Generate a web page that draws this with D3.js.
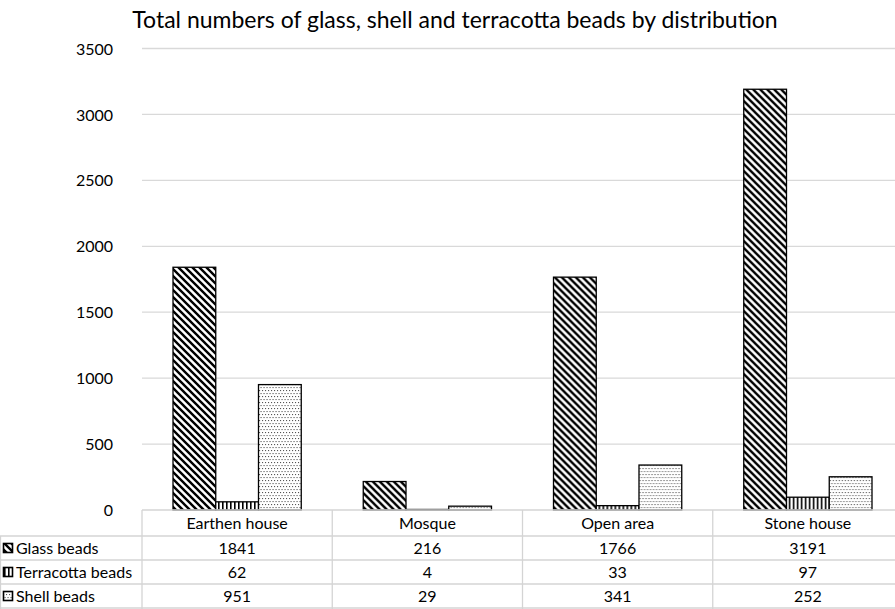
<!DOCTYPE html>
<html>
<head>
<meta charset="utf-8">
<script src="https://cdn.jsdelivr.net/npm/d3@7"></script>
<style>
  body { margin: 0; background: #fff; }
  svg { display: block; font-family: Lato, "Open Sans", sans-serif; }
</style>
</head>
<body>
<svg id="chart" width="895" height="609"></svg>
<script>
const categories = ['Earthen house', 'Mosque', 'Open area', 'Stone house'];
const seriesNames = ['Glass beads', 'Terracotta beads', 'Shell beads'];
const glassBeads = [1841, 216, 1766, 3191];
const terracottaBeads = [62, 4, 33, 97];
const shellBeads = [951, 29, 341, 252];
const yTicks = [0, 500, 1000, 1500, 2000, 2500, 3000, 3500];

const seriesValues = [glassBeads, terracottaBeads, shellBeads];
const patternIds = ['pat-glass', 'pat-terra', 'pat-shell'];

const svg = d3.select('#chart');
const plotLeft = 142, plotRight = 903, plotTop = 48.5, plotBottom = 510;
const rowH = 24;
const fs = 16;

const x = d3.scaleBand().domain(categories).range([plotLeft, plotRight]);
const x1 = d3.scaleBand().domain(seriesNames).range([31, x.bandwidth() - 31]);
const y = d3.scaleLinear().domain([0, 3500]).range([plotBottom, plotTop]);

// fill patterns
const defs = svg.append('defs');
const pg = defs.append('pattern').attr('id', 'pat-glass')
  .attr('patternUnits', 'userSpaceOnUse').attr('width', 7).attr('height', 7);
pg.append('rect').attr('width', 7).attr('height', 7).attr('fill', '#fff');
pg.append('path').attr('d', 'M-1,-1 L8,8 M-8,-1 L1,8 M6,-1 L15,8')
  .attr('stroke', '#000').attr('stroke-width', 2.4);

const pt = defs.append('pattern').attr('id', 'pat-terra')
  .attr('patternUnits', 'userSpaceOnUse').attr('width', 4).attr('height', 4);
pt.append('rect').attr('width', 4).attr('height', 4).attr('fill', '#fff');
pt.append('rect').attr('width', 1.6).attr('height', 4).attr('fill', '#000');

const ps = defs.append('pattern').attr('id', 'pat-shell')
  .attr('patternUnits', 'userSpaceOnUse').attr('width', 6).attr('height', 6);
ps.append('rect').attr('width', 6).attr('height', 6).attr('fill', '#fff');
[[0, 0], [3, 0], [1.5, 3], [4.5, 3]].forEach(([dx, dy]) => {
  ps.append('rect').attr('x', dx).attr('y', dy).attr('width', 1.1).attr('height', 1.1).attr('fill', '#555');
});

// title
svg.append('text')
  .attr('x', 455).attr('y', 28)
  .attr('text-anchor', 'middle')
  .attr('font-size', 23).attr('fill', '#000')
  .text('Total numbers of glass, shell and terracotta beads by distribution');

// grid lines
svg.append('g')
  .selectAll('line')
  .data(yTicks.filter(d => d > 0))
  .join('line')
  .attr('x1', plotLeft).attr('x2', plotRight)
  .attr('y1', d => y(d)).attr('y2', d => y(d))
  .attr('stroke', '#d9d9d9').attr('stroke-width', 1.3);

// y axis labels
const yAxis = svg.append('g')
  .attr('transform', `translate(${plotLeft - 29},0)`)
  .call(d3.axisLeft(y).tickValues(yTicks).tickFormat(d3.format('d')).tickSize(0).tickPadding(0));
yAxis.select('.domain').remove();
yAxis.selectAll('text').attr('font-size', fs).attr('fill', '#000')
  .attr('font-family', 'Lato, sans-serif').attr('dy', '0.35em');

// bars
const groups = svg.append('g')
  .selectAll('g')
  .data(categories)
  .join('g')
  .attr('transform', d => `translate(${x(d)},0)`);

groups.selectAll('rect')
  .data((c, ci) => seriesNames.map((s, si) => ({ s, si, v: seriesValues[si][ci] })))
  .join('rect')
  .attr('x', d => x1(d.s))
  .attr('width', x1.bandwidth())
  .attr('y', d => y(d.v))
  .attr('height', d => plotBottom - y(d.v))
  .attr('fill', d => `url(#${patternIds[d.si]})`)
  .attr('stroke', '#000').attr('stroke-width', 1.3);

// data table
const table = svg.append('g');
const gridColor = '#d4d4d4';
// horizontal lines
table.append('line')
  .attr('x1', plotLeft).attr('x2', plotRight).attr('y1', plotBottom).attr('y2', plotBottom)
  .attr('stroke', gridColor).attr('stroke-width', 1.3);
d3.range(1, 5).forEach(i => {
  table.append('line')
    .attr('x1', 0).attr('x2', plotRight)
    .attr('y1', plotBottom + i * rowH + 2).attr('y2', plotBottom + i * rowH + 2)
    .attr('stroke', gridColor).attr('stroke-width', 1.3);
});
// vertical lines
table.selectAll('line.v')
  .data(categories.concat(['end']))
  .join('line')
  .attr('class', 'v')
  .attr('x1', d => d === 'end' ? plotRight : x(d))
  .attr('x2', d => d === 'end' ? plotRight : x(d))
  .attr('y1', plotBottom).attr('y2', 609)
  .attr('stroke', gridColor).attr('stroke-width', 1.3);
table.append('line')
  .attr('x1', 0.5).attr('x2', 0.5).attr('y1', plotBottom + rowH + 2).attr('y2', 609)
  .attr('stroke', gridColor).attr('stroke-width', 1.3);

// category header
table.selectAll('text.cat')
  .data(categories)
  .join('text')
  .attr('class', 'cat')
  .attr('x', d => x(d) + x.bandwidth() / 2)
  .attr('y', plotBottom + 19)
  .attr('text-anchor', 'middle')
  .attr('font-size', fs).attr('fill', '#000')
  .text(d => d);

// rows
seriesNames.forEach((name, si) => {
  const ry = plotBottom + (si + 1) * rowH + 2;
  const row = table.append('g');
  row.append('rect')
    .attr('x', 3.5).attr('y', ry + 7.5).attr('width', 9).attr('height', 9)
    .attr('fill', `url(#${patternIds[si]})`)
    .attr('stroke', '#000').attr('stroke-width', 1.6);
  row.append('text')
    .attr('x', 16).attr('y', ry + 18)
    .attr('font-size', fs).attr('fill', '#000')
    .text(name);
  row.selectAll('text.val')
    .data(categories)
    .join('text')
    .attr('class', 'val')
    .attr('x', d => x(d) + x.bandwidth() / 2)
    .attr('y', ry + 18)
    .attr('text-anchor', 'middle')
    .attr('font-size', fs).attr('fill', '#000')
    .text((d, ci) => seriesValues[si][ci]);
});
</script>
</body>
</html>
